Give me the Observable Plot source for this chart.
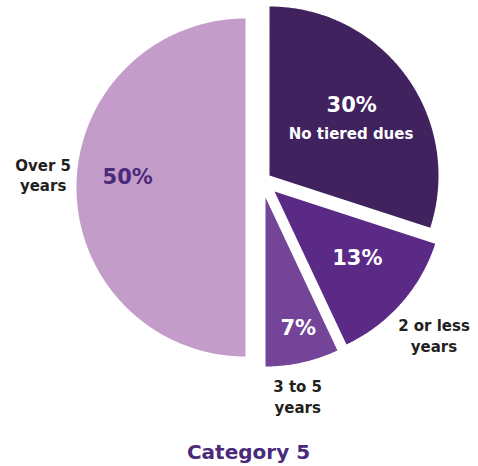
<!DOCTYPE html>
<html><head><meta charset="utf-8">
<script src="https://cdn.jsdelivr.net/npm/d3@7"></script>
<script src="https://cdn.jsdelivr.net/npm/@observablehq/plot@0.6"></script>
<style>body{margin:0;background:#fff} svg{display:block}</style>
</head><body><div id="chart"></div>
<script>
// ---- data ----
const categories = ["No tiered dues", "2 or less years", "3 to 5 years", "Over 5 years"];
const values = [30, 13, 7, 50];
const percentLabels = ["30%", "13%", "7%", "50%"];
const outerLabels = ["No tiered dues", "2 or less\nyears", "3 to 5\nyears", "Over 5\nyears"];
const title = "Category 5";

// ---- styles / layout ----
const colors = ["#40225f", "#5b2a86", "#744499", "#c39cc9"];
const pctColors = ["#ffffff", "#ffffff", "#ffffff", "#4b2a7b"];
const W = 478, H = 466, R = 169;
const center = [257, 187];
const explode = [[12, -12], [17, 4], [8, 10], [-12, 0]];
const innerPos = [[49.5, 0.64], [128.9, 0.63], [166, 0.8], [275, 0.7]];   // [angle deg, radius factor]
const outerPos = [[63.4, 0.54], [132, 1.27], [170.8, 1.19], [273.7, 1.2]];
const font = "DejaVu Sans";

const arcs = d3.pie().sort(null).value(d => d)(values);
const apexOf = i => [center[0] + explode[i][0], center[1] + explode[i][1]];
const polar = (i, deg, f) => {
  const [ax, ay] = apexOf(i), a = deg * Math.PI / 180;
  return [ax + f * R * Math.sin(a), ay - f * R * Math.cos(a)];
};

const slicePts = [];
arcs.forEach((a, i) => {
  const [ax, ay] = apexOf(i);
  const name = categories[i];
  slicePts.push({x: ax, y: ay, k: name});
  const n = Math.max(2, Math.ceil((a.endAngle - a.startAngle) / (Math.PI / 360)));
  for (let j = 0; j <= n; j++) {
    const t = a.startAngle + (a.endAngle - a.startAngle) * j / n;
    slicePts.push({x: ax + R * Math.sin(t), y: ay - R * Math.cos(t), k: name});
  }
  slicePts.push({x: ax, y: ay, k: name});
});

const pctData = arcs.map((a, i) => {
  const [x, y] = polar(i, innerPos[i][0], innerPos[i][1]);
  return {x, y, text: percentLabels[i], color: pctColors[i]};
});
const outData = arcs.map((a, i) => {
  const [x, y] = polar(i, outerPos[i][0], outerPos[i][1]);
  return {x, y, text: outerLabels[i]};
});

const chart = Plot.plot({
  width: W, height: H,
  margin: 0,
  x: {domain: [0, W], range: [0, W], axis: null},
  y: {domain: [0, H], range: [0, H], axis: null},
  color: {domain: categories, range: colors},
  marks: [
    Plot.line(slicePts, {x: "x", y: "y", z: "k", fill: "k", stroke: "none", curve: "linear"}),
    Plot.text(pctData, {x: "x", y: "y", text: "text", fill: d => d.color, fontFamily: font, fontWeight: "bold", fontSize: 21}),
    Plot.text(outData.slice(0, 1), {x: "x", y: "y", text: "text", fill: "#ffffff", fontFamily: font, fontWeight: "bold", fontSize: 15}),
    Plot.text(outData.slice(1), {x: "x", y: "y", text: "text", fill: "#231f20", fontFamily: font, fontWeight: "bold", fontSize: 15, lineHeight: 1.35}),
    Plot.text([title], {x: W / 2 + 9, y: H - 14, text: d => d, fill: "#4b2a7b", fontFamily: font, fontWeight: "bold", fontSize: 20})
  ]
});
document.getElementById("chart").appendChild(chart);
</script>
</body></html>
